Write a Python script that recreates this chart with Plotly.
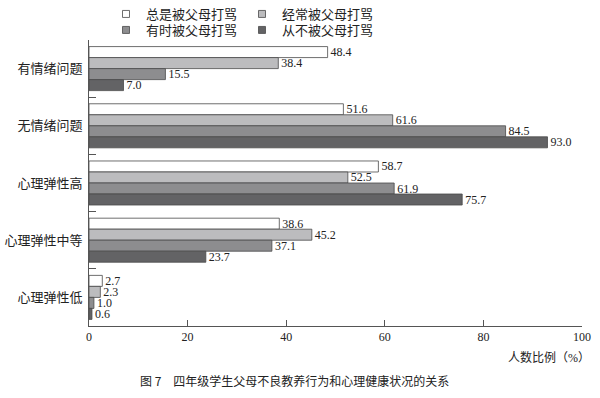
import plotly.graph_objects as go

categories = ["有情绪问题", "无情绪问题", "心理弹性高", "心理弹性中等", "心理弹性低"]
series_names = ["总是被父母打骂", "经常被父母打骂", "有时被父母打骂", "从不被父母打骂"]
always = [48.4, 51.6, 58.7, 38.6, 2.7]
often = [38.4, 61.6, 52.5, 45.2, 2.3]
sometimes = [15.5, 84.5, 61.9, 37.1, 1.0]
never = [7.0, 93.0, 75.7, 23.7, 0.6]
x_ticks = [0, 20, 40, 60, 80, 100]

values = [always, often, sometimes, never]
fills = ["#ffffff", "#bcbcbe", "#8d8d8f", "#636365"]
legends = ["legend", "legend", "legend2", "legend2"]

serif = "Liberation Serif, Noto Sans CJK SC"
W, H = 600, 398

fig = go.Figure()
for name, vals, col, lg in zip(series_names, values, fills, legends):
    fig.add_trace(go.Bar(
        y=categories, x=vals, orientation="h", name=name,
        marker=dict(color=col, line=dict(color="#4a4a4a", width=0.8)),
        text=[f"{v:.1f}" for v in vals], textposition="outside", constraintext="none",
        textfont=dict(family=serif, size=12, color="#222"),
        cliponaxis=False, showlegend=False,
    ))
    fig.add_trace(go.Scatter(
        x=[None], y=[None], mode="markers", name=name, legend=lg,
        marker=dict(symbol="square", size=7, color=col, line=dict(color="#4a4a4a", width=0.8)),
    ))

fig.update_layout(
    width=W, height=H,
    margin=dict(l=89, r=18, t=40, b=72, autoexpand=False),
    paper_bgcolor="white", plot_bgcolor="white",
    barmode="group", bargap=0.23, bargroupgap=0,
    font=dict(family=serif, size=12, color="#222"),
    legend=dict(orientation="h", xref="container", yref="container", x=106 / W, y=1 - 14 / H,
                xanchor="left", yanchor="middle", entrywidth=91,
                font=dict(family=serif, size=13, color="#222"), bgcolor="rgba(0,0,0,0)"),
    legend2=dict(orientation="h", xref="container", yref="container", x=106 / W, y=1 - 30 / H,
                 xanchor="left", yanchor="middle", entrywidth=91,
                 font=dict(family=serif, size=13, color="#222"), bgcolor="rgba(0,0,0,0)"),
    xaxis=dict(range=[0, 100], tickvals=x_ticks, ticks="inside", ticklen=6, tickcolor="#555",
               showline=True, linecolor="#555", linewidth=1, showgrid=False, zeroline=False,
               automargin=False, tickfont=dict(family=serif, size=12, color="#222")),
    yaxis=dict(autorange="reversed", ticks="inside", ticklen=7, tickcolor="#555", tickson="boundaries",
               showline=True, linecolor="#555", linewidth=1, showgrid=False, automargin=False,
               ticklabelstandoff=3,
               tickfont=dict(family=serif, size=13, color="#222")),
    annotations=[
        dict(text="人数比例（%）", xref="paper", yref="paper", x=1.02, y=-0.11,
             xanchor="right", yanchor="middle", showarrow=False,
             font=dict(family=serif, size=12, color="#222")),
        dict(text="图 7　四年级学生父母不良教养行为和心理健康状况的关系", xref="paper", yref="paper",
             x=0.416, y=-0.19, xanchor="center", yanchor="middle", showarrow=False,
             font=dict(family="Noto Sans CJK SC", size=12, color="#222")),
    ],
)
fig.write_html("out.html", config={"displayModeBar": False},
               post_script="document.body.style.margin='0';")
